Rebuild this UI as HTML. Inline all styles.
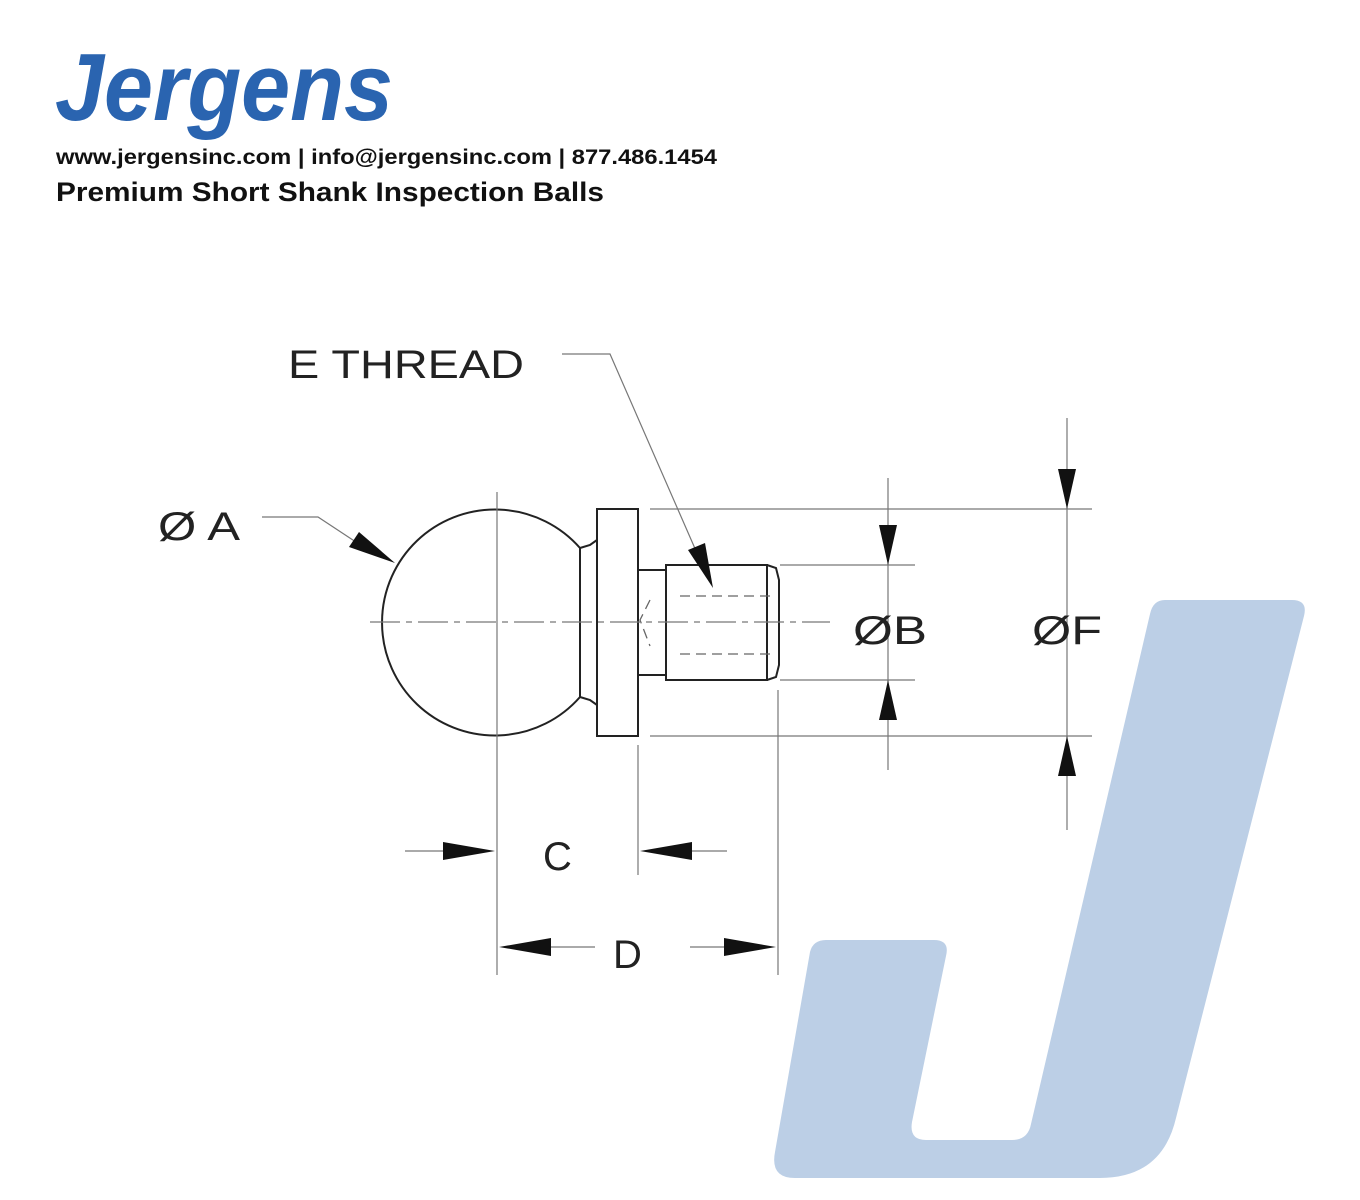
<!DOCTYPE html>
<html><head><style>body{margin:0;background:#fff}</style></head><body>
<svg width="1360" height="1200" xmlns="http://www.w3.org/2000/svg" style="display:block">
<rect width="1360" height="1200" fill="#fff"/>
<path d="M1165,600 L1292,600 Q1308,600 1304,616 L1176,1118 Q1162,1178 1100,1178 L795,1178 Q770,1178 775,1152 L810,952 Q813,940 826,940 L934,940 Q950,940 946,956 L912,1122 Q909,1140 926,1140 L1012,1140 Q1028,1140 1031,1124 L1150,614 Q1153,600 1165,600Z" fill="#bccfe6"/>
<text x="55" y="120" font-family="Liberation Sans" font-weight="bold" font-style="italic" font-size="96" fill="#2a64b0" textLength="338" lengthAdjust="spacingAndGlyphs">Jergens</text>
<text x="56" y="164" font-family="Liberation Sans" font-weight="bold" font-size="21" fill="#111" textLength="661" lengthAdjust="spacingAndGlyphs">www.jergensinc.com | info@jergensinc.com | 877.486.1454</text>
<text x="56" y="201" font-family="Liberation Sans" font-weight="bold" font-size="27" fill="#111" textLength="548" lengthAdjust="spacingAndGlyphs">Premium Short Shank Inspection Balls</text>
<g stroke="#222" fill="none" stroke-width="2">
<path d="M580,548 A113,113 0 1 0 580,697"/>
<path d="M580,548 L590,545 L597,540 M580,697 L590,700 L597,705"/>
<line x1="580" y1="548" x2="580" y2="697"/>
<rect x="597" y="509" width="41" height="227"/>
<line x1="638" y1="570" x2="666" y2="570"/><line x1="638" y1="675" x2="666" y2="675"/>
<rect x="666" y="565" width="101" height="115"/>
<path d="M767,565 L776,568 L779,580 L779,665 L776,677 L767,680"/>
</g>
<g stroke="#666" fill="none" stroke-width="1.3" stroke-dasharray="10,6">
<path d="M680,596 L770,596 M680,654 L770,654 M650,600 L640,620 L650,646"/>
</g>
<g stroke="#777" fill="none" stroke-width="1.2">
<line x1="370" y1="622" x2="830" y2="622" stroke-dasharray="30,6,6,6"/>
<line x1="497" y1="492" x2="497" y2="975"/>
<line x1="650" y1="509" x2="1092" y2="509"/><line x1="650" y1="736" x2="1092" y2="736"/>
<line x1="780" y1="565" x2="915" y2="565"/><line x1="780" y1="680" x2="915" y2="680"/>
<line x1="888" y1="478" x2="888" y2="770"/><line x1="1067" y1="418" x2="1067" y2="830"/>
<line x1="638" y1="745" x2="638" y2="875"/><line x1="778" y1="690" x2="778" y2="975"/>
<line x1="405" y1="851" x2="470" y2="851"/><line x1="670" y1="851" x2="727" y2="851"/>
<line x1="520" y1="947" x2="595" y2="947"/><line x1="690" y1="947" x2="755" y2="947"/>
<polyline points="262,517 318,517 365,548"/>
<polyline points="562,354 610,354 700,560"/>
</g>
<g fill="#111">
<polygon points="888,565 879,525 897,525"/><polygon points="888,680 879,720 897,720"/>
<polygon points="1067,509 1058,469 1076,469"/><polygon points="1067,736 1058,776 1076,776"/>
<polygon points="495,851 443,842 443,860"/><polygon points="640,851 692,842 692,860"/>
<polygon points="499,947 551,938 551,956"/><polygon points="776,947 724,938 724,956"/>
<polygon points="395,563 349,547 359,532"/>
<polygon points="713,588 688,550 705,543"/>
</g>
<g font-family="Liberation Sans" font-size="40" fill="#222">
<text x="288" y="378" textLength="236" lengthAdjust="spacingAndGlyphs">E THREAD</text>
<text x="158" y="540" textLength="82" lengthAdjust="spacingAndGlyphs">Ø A</text>
<text x="853" y="644" textLength="74" lengthAdjust="spacingAndGlyphs">ØB</text>
<text x="1032" y="644" textLength="70" lengthAdjust="spacingAndGlyphs">ØF</text>
<text x="543" y="870">C</text>
<text x="613" y="968">D</text>
</g>
</svg>
</body></html>
